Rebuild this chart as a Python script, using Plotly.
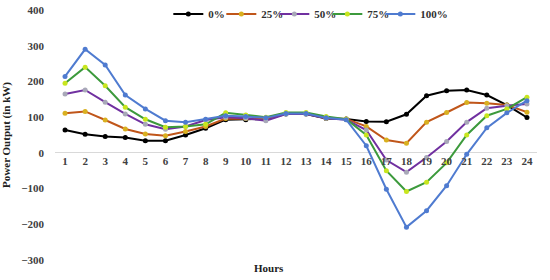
import plotly.graph_objects as go

hours = list(range(1, 25))
p0 = [64, 52, 46, 43, 34, 34, 50, 69, 93, 93, 95, 109, 109, 96, 95, 88, 87, 108, 160, 174, 176, 162, 134, 99]
p25 = [111, 116, 92, 67, 53, 48, 60, 74, 96, 96, 95, 110, 110, 97, 95, 74, 36, 27, 86, 113, 141, 139, 134, 114]
p50 = [165, 176, 142, 109, 80, 66, 74, 92, 100, 97, 90, 109, 109, 97, 93, 64, -20, -54, -13, 32, 86, 125, 132, 137]
p75 = [195, 240, 188, 128, 94, 72, 74, 80, 112, 106, 100, 113, 113, 102, 94, 50, -50, -108, -82, -28, 50, 104, 123, 156]
p100 = [214, 290, 246, 162, 123, 90, 86, 94, 104, 102, 98, 110, 110, 98, 93, 20, -102, -208, -162, -92, -4, 70, 112, 146]

series = [
    ("0%", p0, "#000000", "#000000"),
    ("25%", p25, "#C0561A", "#D9B020"),
    ("50%", p50, "#7030A0", "#A8A8B8"),
    ("75%", p75, "#3C9A3C", "#C8E61E"),
    ("100%", p100, "#4F7BD0", "#4F7BD0"),
]

font = "Liberation Serif"

fig = go.Figure()
for name, vals, line_c, mark_c in series:
    fig.add_trace(go.Scatter(
        x=hours, y=vals, name=name, mode="lines+markers",
        line=dict(color=line_c, width=2),
        marker=dict(color=mark_c, size=5),
    ))

fig.update_layout(
    width=550, height=280,
    margin=dict(l=55, r=13, t=10, b=20, autoexpand=False),
    plot_bgcolor="white", paper_bgcolor="white",
    font=dict(family=font, size=11, color="#404040"),
    showlegend=True,
    legend=dict(orientation="h", x=0.51, xanchor="center", y=0.984, yanchor="middle",
                font=dict(family=font, size=11, color="#303030", weight="bold"),
                itemwidth=30, entrywidth=8, entrywidthmode="pixels",
                bgcolor="rgba(0,0,0,0)", tracegroupgap=0),
)

fig.update_xaxes(
    range=[0.5, 24.5], tickmode="array", tickvals=hours, ticktext=[str(h) for h in hours],
    showgrid=False, showline=False, zeroline=False,
    anchor="free", position=300 / 700,
    tickfont=dict(family=font, size=11, color="#404040", weight="bold"),
)
fig.update_yaxes(
    range=[-300, 400], dtick=100, showgrid=False, zeroline=True,
    zerolinecolor="#D9D9D9", zerolinewidth=1, showline=False,
    ticklabelstandoff=10,
    tickfont=dict(family=font, size=11, color="#404040", weight="bold"),
    title=dict(text="Power Output (in kW)", standoff=14,
               font=dict(family=font, size=11, color="#202020", weight="bold")),
)

fig.add_annotation(text="Hours", xref="paper", yref="paper", x=0.445, y=-0.032,
                   yanchor="middle", showarrow=False,
                   font=dict(family=font, size=11, color="#202020", weight="bold"))

# body margin off, and let the last legend label show in full
js = ("document.body.style.margin='0px';"
      "document.querySelectorAll('.legend .scrollbox').forEach(function(e){e.removeAttribute('clip-path');});")
fig.write_html("out.html", config={"displayModeBar": False}, post_script=js)
